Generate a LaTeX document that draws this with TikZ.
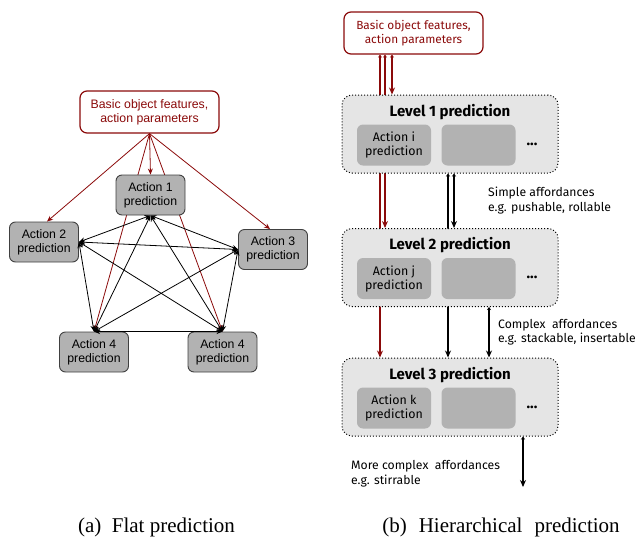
\documentclass[tikz,border=0pt]{standalone}
\usepackage{fontspec}
\setmainfont{Liberation Serif}
\newfontfamily\flatfont{Liberation Sans}
\newfontfamily\hierfont{Fira Sans}
\usetikzlibrary{arrows.meta,backgrounds}
\definecolor{featred}{HTML}{8B0A0A}
\tikzset{
  featbox/.style={draw=featred, line width=1.2pt, rounded corners=7pt, fill=white, text=featred,
    align=center, minimum width=139pt, minimum height=42pt, inner sep=0pt},
  actbox/.style={draw=black!75, line width=0.9pt, fill=black!30, rounded corners=6pt, align=center,
    minimum width=69pt, minimum height=40pt, inner sep=0pt, font=\flatfont\fontsize{12.3}{14}\selectfont},
  levelbox/.style={draw, dotted, line width=1pt, fill=black!10, rounded corners=10pt,
    minimum width=216pt, minimum height=78pt, inner sep=0pt},
  subbox/.style={fill=black!30, rounded corners=6pt, align=center, minimum width=74pt,
    minimum height=41pt, inner sep=0pt, font=\hierfont\fontsize{12.4}{14}\selectfont},
  leveltitle/.style={font=\hierfont\bfseries\fontsize{15}{17}\selectfont, inner sep=0pt},
  affnote/.style={font=\hierfont\fontsize{12.2}{14.5}\selectfont, align=left, anchor=west, inner sep=0pt},
  redarr/.style={featred, line width=0.8pt, -{Stealth[length=6pt,width=5pt]}},
  blkarr/.style={line width=0.8pt, {Stealth[length=6pt,width=5pt]}-{Stealth[length=6pt,width=5pt]}},
  redtail/.style={featred, line width=1.2pt, {Stealth[length=3pt,width=4pt]}-{Stealth[length=7pt,width=6pt]}},
  blktail/.style={line width=1.2pt, {Stealth[length=3pt,width=4pt]}-{Stealth[length=7pt,width=6pt]}},
}
\begin{document}
\begin{tikzpicture}[x=1pt,y=-1pt]
  \useasboundingbox (0,0) rectangle (640,536);
  % (a) flat
  \node[featbox, font=\flatfont\fontsize{12.3}{14}\selectfont] (featA) at (149.5,112) {Basic object features,\\action parameters};
  \node[actbox] (act1) at (150.5,195) {Action 1\\prediction};
  \node[actbox] (act2) at (44,242) {Action 2\\prediction};
  \node[actbox] (act3) at (273,249.5) {Action 3\\prediction};
  \node[actbox] (act4a) at (94,352) {Action 4\\prediction};
  \node[actbox] (act4b) at (222.5,352) {Action 4\\prediction};
  \begin{scope}[on background layer]
    \draw[redarr] (featA.south) -- (act4a.north);
    \draw[redarr] (featA.south) -- (act4b.north);
  \end{scope}
  \draw[redarr] (featA.south) -- (act1.north);
  \draw[redarr] (featA.south) -- ([xshift=3pt]act2.north);
  \draw[redarr] (featA.south) -- ([xshift=-3pt]act3.north);
  \foreach \a/\b in {act1.south/act2.east, act1.south/act3.west, act1.south/act4a.north,
      act1.south/act4b.north, act2.east/act3.west, act2.east/act4a.north, act2.east/act4b.north,
      act3.west/act4a.north, act3.west/act4b.north, act4a.north/act4b.north}
    \draw[blkarr] (\a) -- (\b);
  % (b) hierarchical
  \node[featbox, font=\hierfont\fontsize{11.8}{14}\selectfont] (featB) at (413.5,33) {Basic object features,\\action parameters};
  \foreach \n/\y/\act in {1/134/i, 2/267.5/j, 3/397/k} {
    \node[levelbox] (lev\n) at (450,\y) {};
    \node[leveltitle] (title\n) at (450,\y-22) {Level \n\ prediction};
    \node[subbox] (sub\n) at (394,\y+11) {Action \act\\prediction};
    \node[subbox] (blank\n) at (478.5,\y+11) {};
    \node[leveltitle] (dots\n) at (532,\y+10) {...};
  }
  \coordinate (out) at (523,487);
  \begin{scope}[on background layer]
    \draw[redtail] ([xshift=-28.5pt]featB.south) -- ([xshift=-65pt]lev2.north);
    \draw[redtail] ([xshift=-33.5pt]featB.south) -- ([xshift=-70pt]lev3.north);
    \draw[blktail] ([xshift=-2pt]lev1.south) -- ([xshift=-2pt]lev3.north);
  \end{scope}
  \draw[redtail] ([xshift=-21.5pt]featB.south) -- ([xshift=-58pt]lev1.north);
  \draw[blktail] ([xshift=4pt]lev1.south) -- ([xshift=4pt]lev2.north);
  \draw[blktail] ([xshift=39pt]lev2.south) -- ([xshift=39pt]lev3.north);
  \draw[blktail] ([xshift=73pt]lev3.south) -- (out);
  \node[affnote] (simple) at (488,200.5) {Simple affordances\\e.g. pushable, rollable};
  \node[affnote] (complex) at (498,332) {Complex\ \ affordances\\e.g. stackable, insertable};
  \node[affnote] (morecx) at (351,473.5) {More complex\ \ affordances\\e.g. stirrable};
  % captions
  \node[font=\fontsize{21}{24}\selectfont, anchor=base] (capA) at (156.5,532) {(a)\ \ Flat prediction};
  \node[font=\fontsize{21}{24}\selectfont, anchor=base] (capB) at (501,532) {(b)\hspace{12pt}Hierarchical\hspace{12pt}prediction};
\end{tikzpicture}
\end{document}
